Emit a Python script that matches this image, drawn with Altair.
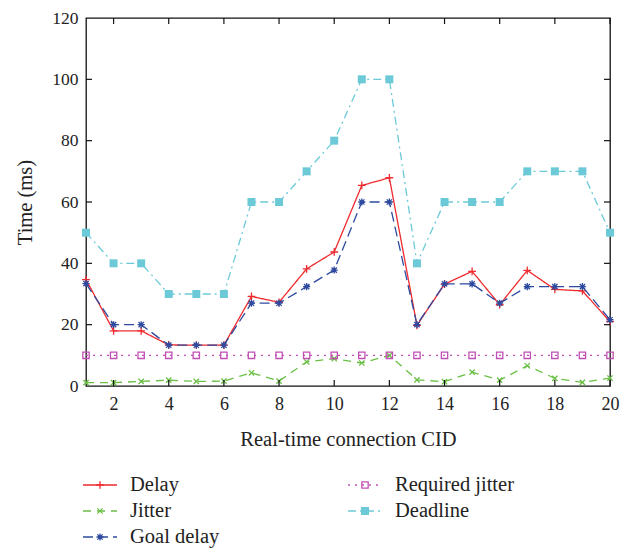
import altair as alt
import pandas as pd

cid = list(range(1, 21))
delay = [34.7, 18.0, 18.0, 13.4, 13.3, 13.3, 29.2, 27.3, 38.2, 43.7, 65.4, 67.9, 19.8, 33.2, 37.4, 26.5, 37.7, 31.5, 31.0, 21.0]
jitter = [1.1, 1.1, 1.5, 1.9, 1.5, 1.6, 4.3, 1.6, 7.9, 8.9, 7.5, 10.0, 2.0, 1.4, 4.5, 1.9, 6.6, 2.5, 1.2, 2.6]
goal_delay = [33.4, 20.0, 20.0, 13.3, 13.3, 13.3, 27.0, 27.0, 32.4, 37.8, 60.0, 60.0, 20.0, 33.3, 33.3, 27.0, 32.4, 32.4, 32.4, 21.6]
required_jitter = [10] * 20
deadline = [50, 40, 40, 30, 30, 30, 60, 60, 70, 80, 100, 100, 40, 60, 60, 60, 70, 70, 70, 50]

x_ticks = [2, 4, 6, 8, 10, 12, 14, 16, 18, 20]
y_ticks = [0, 20, 40, 60, 80, 100, 120]

FONT = "Liberation Serif"
W, H = 524, 368

PLUS = "M-1,0L1,0M0,-1L0,1"
XMARK = "M-0.75,-0.75L0.75,0.75M-0.75,0.75L0.75,-0.75"
AST = PLUS + XMARK

series = [
    # name, values, color, dash, shape, filled, size, legend col, legend row
    ("Delay", delay, "#ee2a2e", [1, 0], PLUS, False, 60, 0, 0),
    ("Jitter", jitter, "#6abf45", [8, 6], XMARK, False, 50, 0, 1),
    ("Goal delay", goal_delay, "#2e4a9e", [10, 5], AST, False, 50, 0, 2),
    ("Required jitter", required_jitter, "#c050b4", [2, 5], "square", False, 40, 1, 0),
    ("Deadline", deadline, "#6ccad8", [8, 4, 2, 4], "square", True, 64, 1, 1),
]

x_scale = alt.Scale(domain=[1, 20], nice=False, zero=False)
y_scale = alt.Scale(domain=[0, 120], nice=False)
x_axis = alt.Axis(values=x_ticks, ticks=False, domain=False, grid=False,
                  labelFlush=False,
                  labelFont=FONT, labelFontSize=18, labelColor="#222",
                  labelPadding=9, title="Real-time connection CID",
                  titleFont=FONT, titleFontSize=20.5, titleFontWeight="normal",
                  titleColor="#222", titlePadding=16)
y_axis = alt.Axis(values=y_ticks, ticks=False, domain=False, grid=False,
                  labelFlush=False,
                  labelFont=FONT, labelFontSize=17.5, labelColor="#222",
                  labelPadding=8, title="Time (ms)",
                  titleFont=FONT, titleFontSize=20.5, titleFontWeight="normal",
                  titleColor="#222", titlePadding=16)

X = alt.X("cid:Q", scale=x_scale, axis=x_axis)
Y = alt.Y("value:Q", scale=y_scale, axis=y_axis)

layers = []
for name, vals, color, dash, shape, filled, size, col, row in series:
    df = pd.DataFrame({"cid": cid, "value": vals, "series": name})
    base = alt.Chart(df)
    layers.append(base.mark_line(color=color, strokeDash=dash, strokeWidth=1.3).encode(x=X, y=Y))
    if filled:
        pt = base.mark_point(shape=shape, filled=True, color=color, size=size, opacity=1)
    else:
        pt = base.mark_point(shape=shape, filled=False, color=color, size=size,
                             strokeWidth=1.3, opacity=1)
    layers.append(pt.encode(x=X, y=Y))

# inward ticks on all four sides
xt = pd.DataFrame({"cid": x_ticks})
yt = pd.DataFrame({"value": [20, 40, 60, 80, 100]})
TL = 6
tick_style = dict(color="#111", strokeWidth=1.2)
layers.append(alt.Chart(xt).mark_rule(**tick_style).encode(x=X, y=alt.value(H), y2=alt.value(H - TL)))
layers.append(alt.Chart(xt).mark_rule(**tick_style).encode(x=X, y=alt.value(0), y2=alt.value(TL)))
layers.append(alt.Chart(yt).mark_rule(**tick_style).encode(y=Y, x=alt.value(0), x2=alt.value(TL)))
layers.append(alt.Chart(yt).mark_rule(**tick_style).encode(y=Y, x=alt.value(W), x2=alt.value(W - TL)))

main = alt.layer(*layers).properties(width=W, height=H)

# manual legend panel
LW, LH = W, 78
lx = alt.Scale(domain=[0, LW], nice=False, zero=False)
ly = alt.Scale(domain=[-0.5, 2.5], nice=False, zero=False, reverse=True)
leg_layers = []
for name, vals, color, dash, shape, filled, size, col, row in series:
    ldf = pd.DataFrame({"series": [name], "col": [col], "row": [row]})
    b = alt.Chart(ldf).transform_calculate(
        x0="datum.col * 265 - 3",
        x1="datum.col * 265 + 31",
        xm="datum.col * 265 + 14",
        xt="datum.col * 265 + 44",
    )
    leg_layers.append(b.mark_rule(color=color, strokeDash=dash, strokeWidth=1.3).encode(
        x=alt.X("x0:Q", scale=lx, axis=None), x2="x1:Q",
        y=alt.Y("row:Q", scale=ly, axis=None)))
    if filled:
        pt = b.mark_point(shape=shape, filled=True, color=color, size=size, opacity=1)
    else:
        pt = b.mark_point(shape=shape, filled=False, color=color, size=size,
                          strokeWidth=1.3, opacity=1)
    leg_layers.append(pt.encode(x=alt.X("xm:Q", scale=lx, axis=None),
                                y=alt.Y("row:Q", scale=ly, axis=None)))
    leg_layers.append(b.mark_text(align="left", baseline="middle", font=FONT,
                                  fontSize=20.5, color="#222").encode(
        x=alt.X("xt:Q", scale=lx, axis=None),
        y=alt.Y("row:Q", scale=ly, axis=None),
        text="series:N"))

legend = alt.layer(*leg_layers).properties(width=LW, height=LH, view=alt.ViewConfig(stroke=None))

chart = alt.vconcat(
    main, legend, spacing=21,
    padding={"left": 7, "top": 0, "right": 0, "bottom": 0},
    background="white",
).configure_view(stroke="#111", strokeWidth=1.3)

chart.save("out.html", embed_options={"renderer": "svg", "actions": False})
